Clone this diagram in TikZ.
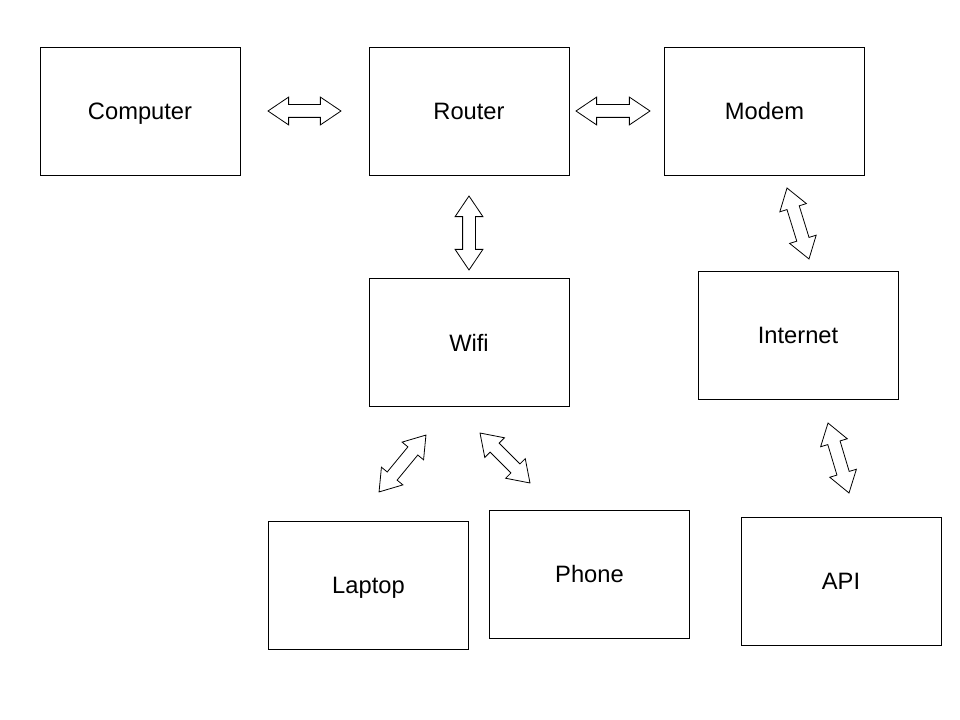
\documentclass[tikz,border=0pt]{standalone}
\usepackage{fontspec}
\setmainfont{Liberation Sans}
\usetikzlibrary{shapes.arrows,calc}

\tikzset{
  box/.style={draw,line width=0.8bp,minimum width=200bp,minimum height=128bp,text height=17bp,text depth=0bp,font=\fontsize{23.8pt}{28pt}\selectfont},
  dblarr/.style={draw,line width=0.8bp,double arrow,inner sep=6bp,double arrow head extend=7.5bp,double arrow tip angle=68,anchor=center},
}
\newcommand{\linkarrow}[2]{%
  \path let \p1=(#1), \p2=(#2), \n1={atan2(\y2-\y1,\x2-\x1)}, \n2={veclen(\x2-\x1,\y2-\y1)} in
    node[dblarr,minimum height=\n2,rotate=\n1] at ($(#1)!0.5!(#2)$) {};}

\begin{document}
\begin{tikzpicture}[x=1bp,y=-1bp]
\useasboundingbox (0,0) rectangle (960,720);

\node[box] (computer) at (140,111) {Computer};
\node[box] (router) at (469,111) {Router};
\node[box] (modem) at (764.5,111) {Modem};
\node[box] (wifi) at (469,342.5) {Wifi};
\node[box] (internet) at (798,335) {Internet};
\node[box] (laptop) at (368.5,585) {Laptop};
\node[box] (phone) at (589.5,574) {Phone};
\node[box] (api) at (841,581) {API};

% arrow ends
\coordinate (cr1) at (268,111); \coordinate (cr2) at (341,111);
\coordinate (rm1) at (576,111); \coordinate (rm2) at (650,111);
\coordinate (rw1) at (469,196); \coordinate (rw2) at (469,270);
\coordinate (mi1) at (787,188); \coordinate (mi2) at (809,259);
\coordinate (ia1) at (828,423); \coordinate (ia2) at (849,493);
\coordinate (wl1) at (426,435); \coordinate (wl2) at (379,492);
\coordinate (wp1) at (480,433); \coordinate (wp2) at (530,483);

\linkarrow{cr1}{cr2}
\linkarrow{rm1}{rm2}
\linkarrow{rw1}{rw2}
\linkarrow{mi1}{mi2}
\linkarrow{ia1}{ia2}
\linkarrow{wl1}{wl2}
\linkarrow{wp1}{wp2}

\end{tikzpicture}
\end{document}
